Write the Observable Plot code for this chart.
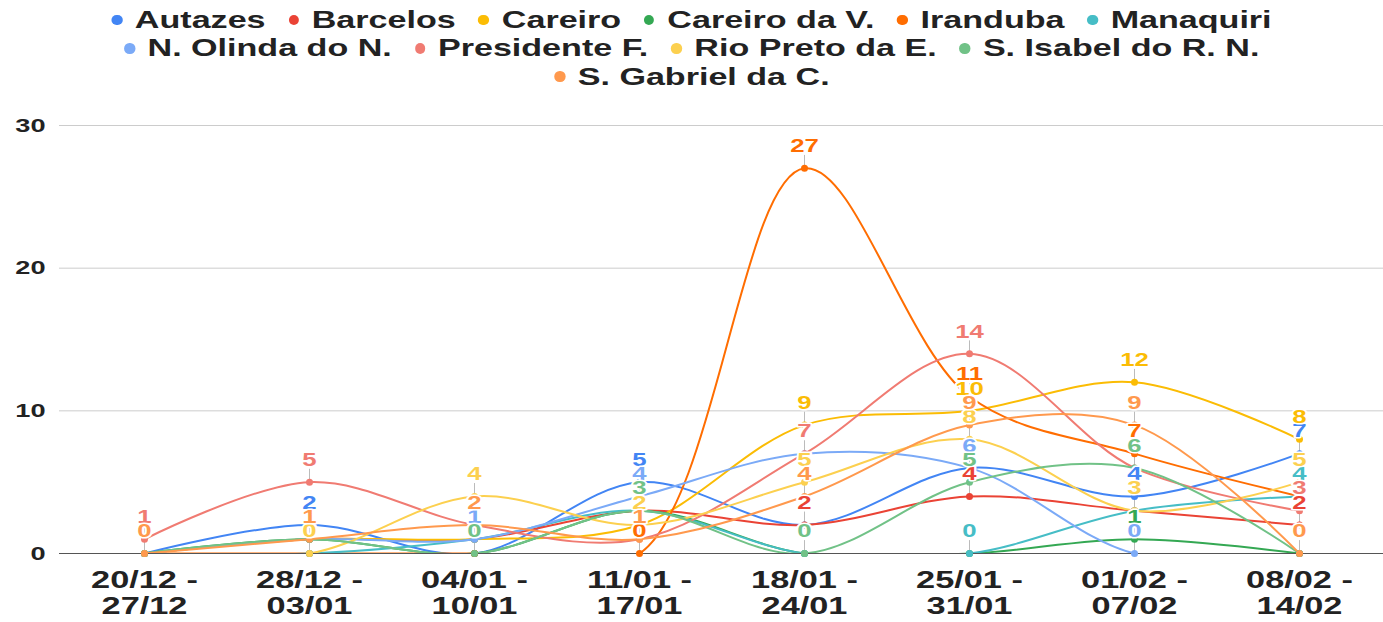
<!DOCTYPE html>
<html>
<head>
<meta charset="utf-8">
<script src="https://cdn.jsdelivr.net/npm/d3@7"></script>
<script src="https://cdn.jsdelivr.net/npm/@observablehq/plot@0.6"></script>
<style>
  html, body { margin: 0; padding: 0; background: #fff; }
  body { width: 1383px; height: 622px; overflow: hidden; font-family: "Liberation Sans", Arial, sans-serif; }
  #legend { padding-top: 6px; height: 84px; }
  .row { display: flex; justify-content: center; align-items: center; height: 28.3px; }
  .inner { display: flex; align-items: center; transform: scaleX(1.42); white-space: nowrap; }
  .item { display: flex; align-items: center; margin: 0 8px; }
  .dot { width: 7.5px; height: 10.5px; border-radius: 50%; margin-right: 9px; }
  .lbl { font-size: 24px; font-weight: bold; color: #222; line-height: 28px; }
</style>
</head>
<body>
<div id="legend"></div>
<div id="chart"></div>
<script>
const weeks = ["20/12 - 27/12", "28/12 - 03/01", "04/01 - 10/01", "11/01 - 17/01", "18/01 - 24/01", "25/01 - 31/01", "01/02 - 07/02", "08/02 - 14/02"];
const seriesNames = ["Autazes", "Barcelos", "Careiro", "Careiro da V.", "Iranduba", "Manaquiri", "N. Olinda do N.", "Presidente F.", "Rio Preto da E.", "S. Isabel do R. N.", "S. Gabriel da C."];
const colors = ["#4285F4", "#EA4335", "#FBBC04", "#34A853", "#FF6D01", "#46BDC6", "#7BAAF7", "#F07B72", "#FCD04F", "#71C287", "#FF994D"];

const autazes    = [0, 2, 0, 5, 2, 6, 4, 7];
const barcelos   = [0, 1, 1, 3, 2, 4, 3, 2];
const careiro    = [0, 1, 1, 2, 9, 10, 12, 8];
const careiroV   = [0, 1, 0, 3, 0, 0, 1, 0];
const iranduba   = [0, 0, 0, 0, 27, 11, 7, 4];
const manaquiri  = [0, 0, 1, 3, 0, 0, 3, 4];
const nOlinda    = [0, 1, 1, 4, 7, 6, 0, 0];
const presidente = [1, 5, 2, 1, 7, 14, 6, 3];
const rioPreto   = [0, 0, 4, 2, 5, 8, 3, 5];
const sIsabel    = [0, 1, 0, 3, 0, 5, 6, 0];
const sGabriel   = [0, 1, 2, 1, 4, 9, 9, 0];
const yTicks = [0, 10, 20, 30];

const allValues = [autazes, barcelos, careiro, careiroV, iranduba, manaquiri, nOlinda, presidente, rioPreto, sIsabel, sGabriel];
const rows = seriesNames.flatMap((s, si) => weeks.map((w, wi) => ({series: s, week: w, value: allValues[si][wi]})));
// a label that sits exactly under a later series' label with the same value is hidden (as in the reference)
const labelRows = rows.filter(r => {
  const later = rows.filter(o => o.week === r.week && o.value === r.value && seriesNames.indexOf(o.series) > seriesNames.indexOf(r.series));
  return later.length === 0;
});

// Legend (HTML, above the SVG)
const legendRows = [seriesNames.slice(0, 6), seriesNames.slice(6, 10), seriesNames.slice(10)];
const legend = document.getElementById("legend");
legendRows.forEach(names => {
  const row = document.createElement("div"); row.className = "row";
  const inner = document.createElement("div"); inner.className = "inner";
  names.forEach(n => {
    const it = document.createElement("div"); it.className = "item";
    const d = document.createElement("span"); d.className = "dot"; d.style.background = colors[seriesNames.indexOf(n)];
    const t = document.createElement("span"); t.className = "lbl"; t.textContent = n;
    it.appendChild(d); it.appendChild(t); inner.appendChild(it);
  });
  row.appendChild(inner); legend.appendChild(row);
});

const stemShape = { draw(context, l) { context.moveTo(0, 0); context.lineTo(0, -l); } };

const chart = Plot.plot({
  width: 1383,
  height: 532,
  marginLeft: 59,
  marginRight: 0,
  marginTop: 35,
  marginBottom: 69,
  style: { fontFamily: "'Liberation Sans', Arial, sans-serif", background: "#fff", overflow: "visible" },
  x: { type: "point", domain: weeks, padding: 0.5, axis: null },
  y: { domain: [0, 30], axis: null },
  color: { domain: seriesNames, range: colors },
  marks: [
    Plot.gridY(yTicks.filter(d => d > 0), { stroke: "#cccccc", strokeOpacity: 1 }),
    Plot.ruleY([0], { stroke: "#555" }),
    Plot.axisY(yTicks, { tickSize: 0, tickPadding: 14, fontSize: 19, fontWeight: "bold", fill: "#222", label: null }),
    Plot.axisX({ tickSize: 0, tickPadding: 16, fontSize: 24, fontWeight: "bold", fill: "#222", lineHeight: 1.08, label: null, tickFormat: d => d.replace(" - ", " -\n") }),
    Plot.line(rows, { x: "week", y: "value", z: "series", stroke: "series", curve: "catmull-rom", strokeWidth: 2, clip: true }),
    Plot.vector(labelRows, { x: "week", y: "value", length: 13, rotate: 0, anchor: "start", stroke: "#bbbbbb", strokeWidth: 1, shape: stemShape }),
    Plot.dot(rows, { x: "week", y: "value", fill: "series", r: 3.5 }),
    Plot.text(labelRows, { x: "week", y: "value", text: "value", fill: "series", dy: -22, fontSize: 18, fontWeight: "bold", stroke: "white", strokeWidth: 3 })
  ]
});
document.getElementById("chart").appendChild(chart);

// horizontal stretch of the text, as in the reference
const S = 1.43;
d3.select(chart).selectAll("text").each(function () {
  const tr = this.getAttribute("transform");
  if (tr) {
    this.setAttribute("transform", tr + ` scale(${S},1)`);
  } else {
    const x = +this.getAttribute("x") || 0, y = +this.getAttribute("y") || 0;
    this.setAttribute("transform", `translate(${x},${y}) scale(${S},1) translate(${-x},${-y})`);
  }
});
</script>
</body>
</html>
